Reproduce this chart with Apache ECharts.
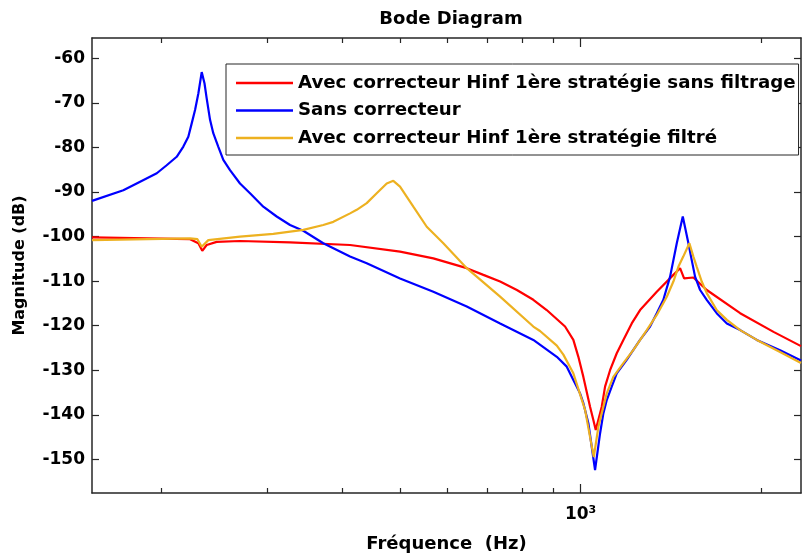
<!DOCTYPE html>
<html>
<head>
<meta charset="utf-8">
<script src="https://cdn.jsdelivr.net/npm/echarts@6/dist/echarts.min.js"></script>
<style>
  html, body { margin: 0; padding: 0; background: #fff; }
  #chart { width: 804px; height: 558px; }
</style>
</head>
<body>
<div id="chart"></div>
<script>
// ---- data ----
const titleText = 'Bode Diagram';
const xName = 'Fréquence  (Hz)';
const yName = 'Magnitude (dB)';
const seriesNames = [
  'Avec correcteur Hinf 1ère stratégie sans filtrage',
  'Sans correcteur',
  'Avec correcteur Hinf 1ère stratégie filtré'
];

const freqRange = [153.4, 2330];
const dbRange = [-157.56, -55.44];
const yTickValues = [-150, -140, -130, -120, -110, -100, -90, -80, -70, -60];
const xMajorTicks = [1000];
const xMinorTicks = [200, 300, 400, 500, 600, 700, 800, 900, 2000];

const redFreq = [153.4, 223.5, 230.7, 234.2, 238.2, 247.5, 270.7, 328.0, 412.9, 500.2, 568.4, 646.2, 688.7, 734.4, 783.2, 834.2, 878.1, 942.2, 972.7, 991.6, 1010.8, 1037.1, 1050.3, 1060.0, 1084.7, 1098.6, 1119.9, 1149.0, 1178.5, 1217.0, 1256.5, 1339.7, 1427.9, 1465.0, 1487.8, 1541.7, 1622.9, 1844.9, 2096.9, 2330];
const redDb = [-100.2, -100.6, -101.5, -103.2, -101.9, -101.2, -101.0, -101.3, -101.9, -103.4, -104.9, -107.1, -108.6, -110.1, -112.0, -114.2, -116.5, -120.2, -123.2, -127.0, -131.5, -138.2, -141.2, -143.4, -138.2, -133.7, -130.0, -126.2, -123.2, -119.5, -116.5, -112.4, -108.6, -107.1, -109.4, -109.2, -112.0, -117.2, -121.4, -124.6];

const blueFreq = [153.4, 173.0, 184.5, 196.7, 204.3, 212.3, 217.8, 222.0, 224.9, 227.8, 230.7, 233.7, 236.2, 238.2, 241.3, 244.3, 249.0, 253.9, 260.5, 270.7, 281.3, 296.0, 311.6, 328.0, 345.1, 372.6, 412.9, 440.2, 500.2, 568.4, 646.2, 734.4, 834.2, 912.9, 948.4, 972.7, 998.0, 1010.8, 1030.4, 1057.2, 1077.7, 1091.4, 1105.7, 1127.0, 1149.0, 1193.7, 1256.5, 1305.6, 1339.7, 1374.0, 1410.0, 1446.6, 1480.3, 1512.6, 1532.0, 1551.7, 1582.0, 1622.9, 1686.0, 1753.1, 1844.9, 1966.5, 2150.0, 2330];
const blueDb = [-92.0, -89.6, -87.7, -85.8, -84.0, -82.1, -79.8, -77.6, -74.6, -71.6, -67.9, -63.1, -65.6, -69.0, -73.8, -76.8, -79.8, -82.8, -85.1, -88.1, -90.3, -93.3, -95.5, -97.4, -98.7, -101.5, -104.5, -106.0, -109.4, -112.4, -115.7, -119.5, -123.2, -127.0, -129.2, -132.2, -135.2, -137.4, -141.9, -152.4, -144.2, -139.7, -136.7, -133.7, -130.7, -127.7, -123.2, -120.2, -117.2, -114.2, -109.0, -101.5, -95.5, -101.5, -105.3, -109.0, -112.0, -114.2, -117.2, -119.5, -121.0, -123.2, -125.5, -127.8];

const yellowFreq = [153.4, 223.5, 229.9, 233.7, 239.7, 270.7, 307.6, 345.1, 372.6, 387.3, 412.9, 423.6, 440.2, 457.4, 475.3, 487.5, 500.2, 526.4, 554.2, 590.6, 646.2, 734.4, 834.2, 855.9, 912.9, 936.1, 972.7, 1017.4, 1052.0, 1070.7, 1105.7, 1134.0, 1178.5, 1224.0, 1289.2, 1339.7, 1392.3, 1427.9, 1455.5, 1483.0, 1518.3, 1541.7, 1561.9, 1592.0, 1622.9, 1686.0, 1753.1, 1844.9, 1966.5, 2150.0, 2330];
const yellowDb = [-100.8, -100.4, -100.6, -102.3, -100.8, -100.0, -99.4, -98.5, -97.4, -96.7, -94.8, -94.0, -92.5, -90.3, -88.1, -87.5, -88.8, -93.3, -97.8, -101.5, -107.1, -113.5, -120.2, -121.2, -124.5, -126.5, -130.7, -138.9, -149.5, -142.7, -135.2, -131.5, -128.4, -125.5, -121.0, -117.6, -113.5, -110.1, -106.8, -104.5, -101.5, -104.5, -106.8, -110.1, -112.7, -116.5, -118.7, -121.0, -123.2, -125.9, -128.4];

const colors = ['#ff0000', '#0000ff', '#edb120'];

// ---- chart ----
const FONT = 'DejaVu Sans';
const AXIS_COLOR = '#262626';
const zip = (xs, ys) => xs.map((x, i) => [x, ys[i]]);

const gridRect = { left: 92, right: 3, top: 38, bottom: 65 };
const axisLine = { show: true, lineStyle: { color: AXIS_COLOR, width: 1.5 } };

const chart = echarts.init(document.getElementById('chart'), null, { renderer: 'canvas' });

const option = {
  animation: false,
  backgroundColor: '#fff',
  title: {
    text: titleText,
    left: 446,
    top: 5,
    textAlign: 'center',
    textStyle: { fontFamily: FONT, fontWeight: 'bold', fontSize: 18, color: '#000' }
  },
  legend: {
    orient: 'vertical',
    left: 226,
    top: 64,
    icon: 'rect',
    itemWidth: 57,
    itemHeight: 2.5,
    itemGap: 9.5,
    padding: [10, 3, 8, 10],
    borderColor: AXIS_COLOR,
    borderWidth: 1,
    backgroundColor: '#fff',
    data: seriesNames,
    textStyle: { fontFamily: FONT, fontWeight: 'bold', fontSize: 18.2, color: '#000' }
  },
  grid: [
    Object.assign({}, gridRect),
    Object.assign({}, gridRect)
  ],
  xAxis: [
    {
      gridIndex: 0, type: 'log', logBase: 10, min: freqRange[0], max: freqRange[1], position: 'bottom',
      name: xName, nameLocation: 'middle', nameGap: 42,
      nameTextStyle: { fontFamily: FONT, fontWeight: 'bold', fontSize: 18, color: '#000' },
      axisLine: axisLine,
      axisTick: { show: true, inside: true, length: 9, customValues: xMajorTicks, lineStyle: { color: AXIS_COLOR, width: 1.2 } },
      axisLabel: {
        show: true, margin: 12, customValues: xMajorTicks,
        formatter: function (v) { return '{b|10}{s|' + Math.round(Math.log10(v)) + '}'; },
        rich: {
          b: { fontFamily: FONT, fontWeight: 'bold', fontSize: 17, color: '#000' },
          s: { fontFamily: FONT, fontWeight: 'bold', fontSize: 11, color: '#000', padding: [0, 0, 9, 0] }
        }
      },
      splitLine: { show: false }
    },
    {
      gridIndex: 0, type: 'log', logBase: 10, min: freqRange[0], max: freqRange[1], position: 'top',
      axisLine: axisLine,
      axisTick: { show: true, inside: true, length: 9, customValues: xMajorTicks, lineStyle: { color: AXIS_COLOR, width: 1.2 } },
      axisLabel: { show: false },
      splitLine: { show: false }
    },
    {
      gridIndex: 1, type: 'log', logBase: 10, min: freqRange[0], max: freqRange[1], position: 'bottom',
      axisLine: { show: false },
      axisTick: { show: true, inside: true, length: 5, customValues: xMinorTicks, lineStyle: { color: AXIS_COLOR, width: 1.2 } },
      axisLabel: { show: false },
      splitLine: { show: false }
    },
    {
      gridIndex: 1, type: 'log', logBase: 10, min: freqRange[0], max: freqRange[1], position: 'top',
      axisLine: { show: false },
      axisTick: { show: true, inside: true, length: 5, customValues: xMinorTicks, lineStyle: { color: AXIS_COLOR, width: 1.2 } },
      axisLabel: { show: false },
      splitLine: { show: false }
    }
  ],
  yAxis: [
    {
      gridIndex: 0, type: 'value', min: dbRange[0], max: dbRange[1], position: 'left',
      name: yName, nameLocation: 'middle', nameGap: 64,
      nameTextStyle: { fontFamily: FONT, fontWeight: 'bold', fontSize: 16, color: '#000' },
      axisLine: axisLine,
      axisTick: { show: true, inside: true, length: 7, customValues: yTickValues, lineStyle: { color: AXIS_COLOR, width: 1.2 } },
      axisLabel: { show: true, margin: 7, customValues: yTickValues, fontFamily: FONT, fontWeight: 'bold', fontSize: 17, color: '#000' },
      splitLine: { show: false }
    },
    {
      gridIndex: 0, type: 'value', min: dbRange[0], max: dbRange[1], position: 'right',
      axisLine: axisLine,
      axisTick: { show: true, inside: true, length: 7, customValues: yTickValues, lineStyle: { color: AXIS_COLOR, width: 1.2 } },
      axisLabel: { show: false },
      splitLine: { show: false }
    },
    {
      gridIndex: 1, type: 'value', min: dbRange[0], max: dbRange[1], show: false
    }
  ],
  series: [
    { name: seriesNames[0], type: 'line', xAxisIndex: 0, yAxisIndex: 0, data: zip(redFreq, redDb),
      symbol: 'none', showSymbol: false, clip: true, color: colors[0], lineStyle: { color: colors[0], width: 2.2 } },
    { name: seriesNames[1], type: 'line', xAxisIndex: 0, yAxisIndex: 0, data: zip(blueFreq, blueDb),
      symbol: 'none', showSymbol: false, clip: true, color: colors[1], lineStyle: { color: colors[1], width: 2.2 } },
    { name: seriesNames[2], type: 'line', xAxisIndex: 0, yAxisIndex: 0, data: zip(yellowFreq, yellowDb),
      symbol: 'none', showSymbol: false, clip: true, color: colors[2], lineStyle: { color: colors[2], width: 2.2 } }
  ]
};

chart.setOption(option);
</script>
</body>
</html>
